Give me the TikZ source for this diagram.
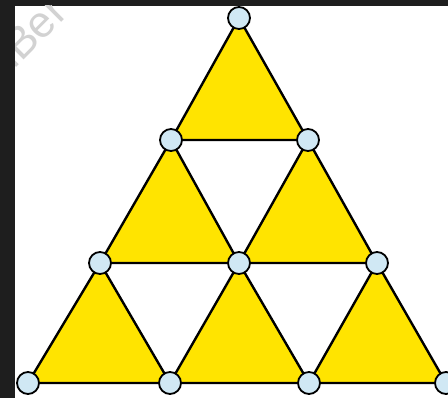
\documentclass[tikz,border=0pt]{standalone}
\usepackage{fontspec}
\setsansfont{Liberation Sans}
\definecolor{bgdark}{RGB}{30,30,30}
\definecolor{triyellow}{RGB}{255,228,0}
\definecolor{dotblue}{RGB}{208,232,244}
\definecolor{wmgray}{RGB}{210,210,210}
\begin{document}
\begin{tikzpicture}[x=1pt,y=-1pt,
  tri/.style={fill=triyellow,draw=black,line width=2.4pt,line join=round},
  vtx/.style={circle,draw=black,line width=1.8pt,fill=dotblue,minimum size=22pt,inner sep=0pt}]
\useasboundingbox (0,0) rectangle (448,398);
\fill[bgdark] (0,0) rectangle (448,398);
\fill[white] (15,6) rectangle (448,398);
% watermark
\begin{scope}
\clip (15,6) rectangle (448,398);
\node[text=wmgray,font=\sffamily\fontsize{44}{44}\selectfont,rotate=45,anchor=base west,inner sep=0pt] (wm) at (14,70) {iBer};
\end{scope}
% lattice points
\coordinate (t)  at (239,18);
\coordinate (a1) at (171,140);
\coordinate (a2) at (308,140);
\coordinate (b1) at (100,263);
\coordinate (b2) at (239,263);
\coordinate (b3) at (377,263);
\coordinate (c1) at (28,383);
\coordinate (c2) at (170,383);
\coordinate (c3) at (309,383);
\coordinate (c4) at (446,383);
% yellow triangles
\draw[tri] (t) -- (a1) -- (a2) -- cycle;
\draw[tri] (a1) -- (b1) -- (b2) -- cycle;
\draw[tri] (a2) -- (b2) -- (b3) -- cycle;
\draw[tri] (b1) -- (c1) -- (c2) -- cycle;
\draw[tri] (b2) -- (c2) -- (c3) -- cycle;
\draw[tri] (b3) -- (c3) -- (c4) -- cycle;
% vertices
\foreach \p in {t,a1,a2,b1,b2,b3,c1,c2,c3,c4}
  \node[vtx] (n\p) at (\p) {};
\end{tikzpicture}
\end{document}
